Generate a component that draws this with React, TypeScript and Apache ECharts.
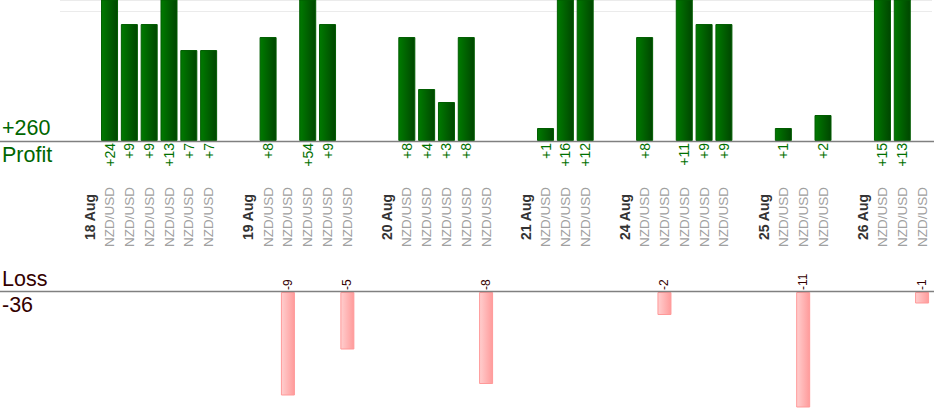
import React, { useEffect, useRef } from "react";
import * as echarts from "echarts";

const N = "NZD/USD";
const CATEGORIES: string[] = [
  "", "18 Aug", N, N, N, N, N, N,
  "", "19 Aug", N, N, N, N, N,
  "", "20 Aug", N, N, N, N, N,
  "", "21 Aug", N, N, N,
  "", "24 Aug", N, N, N, N, N,
  "", "25 Aug", N, N, N,
  "", "26 Aug", N, N, N,
];

const PROFIT: (number | null)[] = [
  null, null, 24, 9, 9, 13, 7, 7,
  null, null, 8, null, 54, 9, null,
  null, null, 8, 4, 3, 8, null,
  null, null, 1, 16, 12,
  null, null, 8, null, 11, 9, 9,
  null, null, 1, null, 2,
  null, null, 15, 13, null,
];

const LOSS: (number | null)[] = [
  null, null, null, null, null, null, null, null,
  null, null, null, -9, null, null, -5,
  null, null, null, null, null, null, -8,
  null, null, null, null, null,
  null, null, null, -2, null, null, null,
  null, null, null, -11, null,
  null, null, null, null, -1,
];

const FONT = 'Arial, "Liberation Sans", Helvetica, sans-serif';

export default function App() {
  const ref = useRef<HTMLDivElement>(null);
  useEffect(() => {
    if (!ref.current) return;
    const chart = echarts.init(ref.current, undefined, { renderer: "svg" });
    const profitTotal = PROFIT.reduce((a: number, v) => a + (v || 0), 0);
    const lossTotal = LOSS.reduce((a: number, v) => a + (v || 0), 0);
    const profitGrad = new echarts.graphic.LinearGradient(0, 0, 1, 0, [
      { offset: 0, color: "#007a00" },
      { offset: 1, color: "#004600" },
    ]);
    const lossGrad = new echarts.graphic.LinearGradient(0, 0, 1, 0, [
      { offset: 0, color: "#ffcece" },
      { offset: 1, color: "#ff9b9b" },
    ]);
    chart.setOption({
      animation: false,
      textStyle: { fontFamily: FONT },
      grid: [
        { left: 60, right: 2, top: 0, height: 141 },
        { left: 60, right: 2, top: 292, height: 115 },
      ],
      xAxis: [
        {
          type: "category",
          gridIndex: 0,
          data: CATEGORIES,
          axisLine: { show: false },
          axisTick: { show: false },
          axisLabel: {
            interval: 0,
            rotate: 90,
            align: "center",
            verticalAlign: "middle",
            margin: 76,
            formatter: (v: string) => (v === N ? `{n|${v}}` : `{d|${v}}`),
            rich: {
              n: { fontSize: 13.5, color: "#a0a0a0", fontFamily: FONT },
              d: { fontSize: 14, fontWeight: "bold", color: "#333333", fontFamily: FONT },
            },
          },
        },
        {
          type: "category",
          gridIndex: 1,
          data: CATEGORIES,
          axisLine: { show: false },
          axisTick: { show: false },
          axisLabel: { show: false },
        },
      ],
      yAxis: [
        {
          type: "value",
          gridIndex: 0,
          min: 0,
          max: 10.85,
          interval: 10,
          axisLabel: { show: false },
          axisLine: { show: false },
          axisTick: { show: false },
          splitLine: { show: true, lineStyle: { color: "#ebebeb", width: 1 } },
        },
        {
          type: "value",
          gridIndex: 1,
          min: -10,
          max: 0,
          axisLabel: { show: false },
          axisLine: { show: false },
          axisTick: { show: false },
          splitLine: { show: false },
        },
      ],
      series: [
        {
          type: "bar",
          xAxisIndex: 0,
          yAxisIndex: 0,
          data: PROFIT,
          barWidth: 17,
          clip: true,
          itemStyle: { color: profitGrad, borderColor: "#005c00", borderWidth: 1 },
          label: {
            show: true,
            position: "bottom",
            distance: 2,
            rotate: 90,
            align: "right",
            verticalAlign: "middle",
            color: "#007000",
            fontSize: 14,
            fontFamily: FONT,
            formatter: (p: any) => `+${p.value}`,
          },
        },
        {
          type: "bar",
          xAxisIndex: 1,
          yAxisIndex: 1,
          data: LOSS,
          barWidth: 14,
          clip: true,
          itemStyle: { color: lossGrad, borderColor: "#ff9999", borderWidth: 1 },
          label: {
            show: true,
            position: "top",
            distance: 2,
            rotate: 90,
            align: "left",
            verticalAlign: "middle",
            color: "#330000",
            fontSize: 12,
            fontFamily: FONT,
            formatter: (p: any) => `${p.value}`,
          },
        },
      ],
      graphic: [
        {
          type: "line",
          z: 100,
          shape: { x1: 0, y1: 141.5, x2: 934, y2: 141.5 },
          style: { stroke: "#808080", lineWidth: 1.5 },
        },
        {
          type: "line",
          z: 100,
          shape: { x1: 0, y1: 291.5, x2: 934, y2: 291.5 },
          style: { stroke: "#808080", lineWidth: 1.5 },
        },
        {
          type: "text",
          left: 2,
          top: 117,
          style: { text: `+${profitTotal}`, fontSize: 21.5, fill: "#006600", fontFamily: FONT },
        },
        {
          type: "text",
          left: 2,
          top: 144,
          style: { text: "Profit", fontSize: 21.5, fill: "#006600", fontFamily: FONT },
        },
        {
          type: "text",
          left: 2,
          top: 268,
          style: { text: "Loss", fontSize: 21.5, fill: "#330000", fontFamily: FONT },
        },
        {
          type: "text",
          left: 2,
          top: 294,
          style: { text: `${lossTotal}`, fontSize: 21.5, fill: "#330000", fontFamily: FONT },
        },
      ],
    });
    return () => chart.dispose();
  }, []);
  return (
    <div
      ref={ref}
      style={{ position: "absolute", left: 0, top: 0, width: 934, height: 420 }}
    />
  );
}
